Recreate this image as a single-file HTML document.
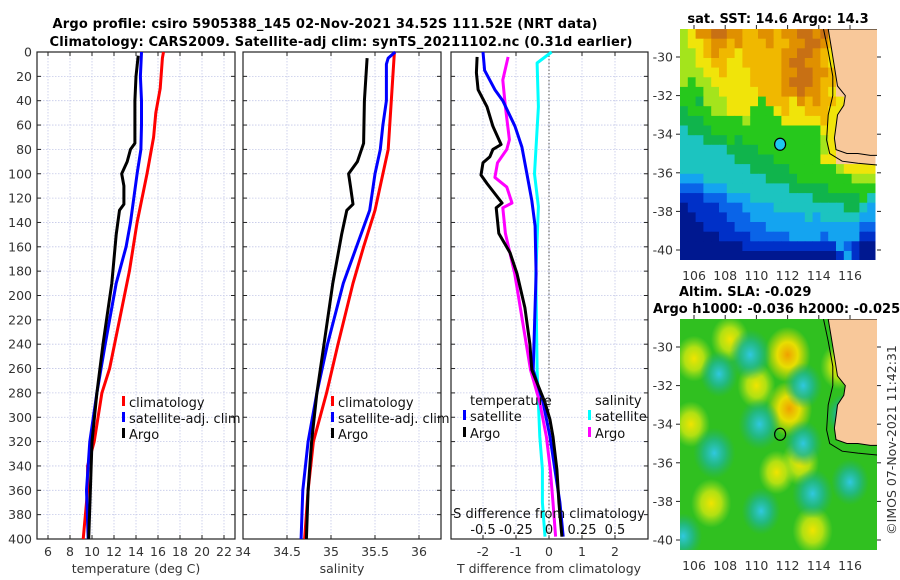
<!DOCTYPE html>
<html><head><meta charset="utf-8"><title>Argo profile</title>
<style>
html,body{margin:0;padding:0;background:#fff;}
svg{display:block;font-family:"DejaVu Sans","Liberation Sans",sans-serif;}
.tk{font-size:12.5px;fill:#333;}
.ttl{font-size:13px;font-weight:bold;fill:#000;}
.lg{font-size:13px;fill:#111;}
</style></head>
<body>
<svg id="fig" width="900" height="580" viewBox="0 0 900 580" xmlns="http://www.w3.org/2000/svg">
<defs>
<radialGradient id="gPos"><stop offset="0" stop-color="#f0a000"/><stop offset="0.45" stop-color="#f0e000" stop-opacity="0.95"/><stop offset="1" stop-color="#f0e000" stop-opacity="0"/></radialGradient>
<radialGradient id="gYel"><stop offset="0" stop-color="#f0e400"/><stop offset="0.5" stop-color="#c8e610" stop-opacity="0.85"/><stop offset="1" stop-color="#a0e020" stop-opacity="0"/></radialGradient>
<radialGradient id="gNeg"><stop offset="0" stop-color="#30c8e0"/><stop offset="0.5" stop-color="#20b890" stop-opacity="0.85"/><stop offset="1" stop-color="#20b070" stop-opacity="0"/></radialGradient>
<clipPath id="clipTop"><rect x="680" y="29" width="197" height="231"/></clipPath>
<clipPath id="clipBot"><rect x="680" y="319" width="197" height="231"/></clipPath>
</defs>
<text class="ttl" x="325" y="28" text-anchor="middle" textLength="545">Argo profile: csiro 5905388_145 02-Nov-2021 34.52S 111.52E (NRT data)</text>
<text class="ttl" x="341" y="46" text-anchor="middle" textLength="583">Climatology: CARS2009. Satellite-adj clim: synTS_20211102.nc (0.31d earlier)</text>
<g id="g1"></g>
<g id="g2"></g>
<g id="g3"></g>
<g id="m1"></g>
<g id="m2"></g>
<text class="ttl" x="778" y="23" text-anchor="middle">sat. SST: 14.6 Argo: 14.3</text>
<text class="ttl" x="679" y="296">Altim. SLA: -0.029</text>
<text class="ttl" x="653" y="313">Argo h1000: -0.036 h2000: -0.025</text>
<text class="tk" transform="translate(896,440) rotate(-90)" text-anchor="middle">©IMOS 07-Nov-2021 11:42:31</text>
</svg>
<script>
// ---------- profile data ----------
const tClimDepth=[0,5,30,50,70,100,140,180,220,260,280,320,340,360,400];
const tClimVal=[16.5,16.4,16.2,15.8,15.6,15.0,14.1,13.4,12.5,11.6,10.9,10.2,9.6,9.6,9.2];
const tSatDepth=[0,20,40,60,80,100,120,140,160,190,240,280,320,360,400];
const tSatVal=[14.5,14.4,14.5,14.5,14.45,14.1,13.8,13.5,13.1,12.2,11.2,10.45,9.8,9.5,9.65];
const tArgoDepth=[3,20,40,75,80,90,100,110,125,130,150,190,240,280,320,400];
const tArgoVal=[14.2,14.0,13.9,13.9,13.5,13.2,12.7,12.9,12.9,12.5,12.2,11.8,11.0,10.45,10.0,9.7];
const sClimDepth=[0,80,100,130,160,190,240,280,320,360,400];
const sClimVal=[35.72,35.65,35.59,35.5,35.37,35.25,35.08,34.95,34.8,34.74,34.7];
const sSatDepth=[0,5,10,40,60,80,100,130,160,190,240,280,320,360,400];
const sSatVal=[35.73,35.65,35.63,35.63,35.59,35.56,35.5,35.44,35.29,35.14,34.96,34.84,34.74,34.68,34.66];
const sArgoDepth=[5,40,75,90,100,110,125,130,150,190,240,280,320,360,400];
const sArgoVal=[35.41,35.38,35.37,35.3,35.2,35.22,35.25,35.18,35.12,35.02,34.92,34.84,34.78,34.74,34.72];
const dTSatDepth=[0,15,31,40,61,78,100,122,143,182,261,288,316,343,370,398];
const dTSatVal=[-2,-1.95,-1.64,-1.4,-1.03,-0.82,-0.67,-0.52,-0.42,-0.39,-0.48,-0.18,0.03,0.18,0.33,0.43];
const dTArgoDepth=[4,17,31,45,61,76,80,86,91,101,108,124,128,149,165,182,210,240,261,288,302,316,343,370,398];
const dTArgoVal=[-2.18,-2.2,-2.15,-1.88,-1.7,-1.45,-1.7,-1.79,-2,-2.06,-1.88,-1.42,-1.6,-1.52,-1.18,-0.97,-0.73,-0.58,-0.52,-0.12,0.03,0.12,0.24,0.3,0.39];
const dSArgoDepth=[4,23,45,72,80,91,103,111,124,128,149,182,261,288,316,343,370,398];
const dSArgoVal=[-0.31,-0.35,-0.33,-0.3,-0.32,-0.39,-0.41,-0.32,-0.28,-0.35,-0.33,-0.26,-0.14,-0.07,-0.02,0.01,0.03,0.05];
const dSSatDepth=[0,9,45,100,127,182,261,288,316,343,370,398];
const dSSatVal=[0.02,-0.09,-0.08,-0.11,-0.08,-0.1,-0.09,-0.08,-0.07,-0.05,-0.05,-0.03];
const depthTicks=[0,20,40,60,80,100,120,140,160,180,200,220,240,260,280,300,320,340,360,380,400];
const tTicks=[6,8,10,12,14,16,18,20,22];
const sTicks=[34,34.5,35,35.5,36];
const dTTicks=[-2,-1,0,1,2];
const dSTicks=[-0.5,-0.25,0,0.25,0.5];
const dSTickLabels=["-0.5","-0.25","0","0.25","0.5"];

// ---------- map data ----------
const sstRows=[
"78aabbaa99aa9aabbab9LLLLL",
"7889aa9a999a99aabba9LLLLL",
"7789a99899999aabba98LLLLL",
"7788998899999abbaa98LLLLL",
"7778898889999aabbaa9LLLLL",
"7677888889999abbba99LLLLL",
"6667788888999aabaa98LLLLL",
"665777888869998a9a998LLLL",
"566677888666898899988LLLL",
"555666667666688888988LLLL",
"45556666666666666688LLLLL",
"44455565666666666678LLLLL",
"44444455556666666678LLLLL",
"44444445555566666688LLLLL",
"4444444445555566666678888",
"3334444444455556666666777",
"2223334444444455555666666",
"1112223334444444455555564",
"0111122233334444444445543",
"0011112223333333434444433",
"0001111222233333333333322",
"0000011112222233332333311",
"0000000011111111111132100",
"0000000000000000000013100"];
const slaLon=[112,112.1,110,106,107.1,113.6,115.3,112.8,108.3,105.8,109.6,107.6,113,110.2,107.3,113.6,116,110.3,113,105.3,111.3,115.6];
const slaLat=[-30.4,-33.2,-32,-30.6,-38.1,-39.5,-31,-36,-29.6,-34,-30.4,-31.4,-32,-34,-35.5,-37.6,-37,-38.5,-35,-39.8,-36.5,-33.5];
const slaVal=[2,2,1,1,1.3,1.3,1,1,1,1,-1.5,-1,-1,-1.5,-1.5,-1.4,-1,-1.1,-1,-1,0.8,-0.6];
const coastLon=[114.6,114.8,115.0,115.2,115.7,115.6,115.2,115.1,115.0,115.1,115.8,116.5,117.3,117.8,117.8];
const coastLat=[-28.55,-29.5,-30.5,-31.5,-32.0,-32.5,-33.0,-33.6,-34.2,-34.8,-35.0,-35.0,-35.1,-35.1,-28.55];
const shelfLon=[114.3,114.6,114.9,114.9,114.6,114.5,114.7,115.5,116.5,117.8];
const shelfLat=[-28.55,-29.7,-31,-32,-33,-34.3,-35.0,-35.4,-35.5,-35.6];
const latTicks=[-30,-32,-34,-36,-38,-40];
const lonTicks=[106,108,110,112,114,116];
const argoLon=111.52, argoLat=-34.52;

const NS="http://www.w3.org/2000/svg";
function mk(parent,tag,attrs){const e=document.createElementNS(NS,tag);for(const k in attrs)e.setAttribute(k,attrs[k]);parent.appendChild(e);return e;}
function txt(parent,x,y,s,anchor,cls){const t=mk(parent,'text',{x:x,y:y,'text-anchor':anchor||'middle','class':cls||'tk'});t.textContent=s;return t;}

const Y0=52,Y1=539;
const yD=d=>Y0+d*(Y1-Y0)/400;
const xT=v=>37+(v-5)*11;
const xS=v=>243+(v-34)*88;
const xDT=v=>549+v*33;
const xDS=v=>549+v*132;

function frame(g,x0,x1,xt,ticks,labels,ylabels){
  for(const d of depthTicks){
    const l=mk(g,'line',{x1:x0,x2:x1,y1:yD(d),y2:yD(d),stroke:'#c4c8e8','stroke-width':0.8,'stroke-dasharray':'1.5,1.5'});
    
    
    mk(g,'line',{x1:x0,x2:x0+4,y1:yD(d),y2:yD(d),stroke:'#222'});
    mk(g,'line',{x1:x1-4,x2:x1,y1:yD(d),y2:yD(d),stroke:'#222'});
    if(ylabels){const t=txt(g,32,yD(d)+4.5,String(d),'end');
      
      }
  }
  ticks.forEach((v,i)=>{
    const x=xt(v);
    if(x>x0+1&&x<x1-1){mk(g,'line',{x1:x,x2:x,y1:Y0,y2:Y1,stroke:'#c4c8e8','stroke-width':0.8,'stroke-dasharray':'1.5,1.5'});
    mk(g,'line',{x1:x,x2:x,y1:Y1-4,y2:Y1,stroke:'#222'});mk(g,'line',{x1:x,x2:x,y1:Y0,y2:Y0+4,stroke:'#222'});}
    if(labels){const t=txt(g,x,556,labels[i]);
      
      }
  });
  const r=mk(g,'rect',{x:x0,y:Y0,width:x1-x0,height:Y1-Y0,fill:'none',stroke:'#222','stroke-width':1.2});
  
  
}
function line(g,depths,vals,xf,color,name,w){
  const pts=depths.map((d,i)=>xf(vals[i]).toFixed(1)+','+yD(d).toFixed(1)).join(' ');
  const p=mk(g,'polyline',{points:pts,fill:'none',stroke:color,'stroke-width':w||3,'stroke-linejoin':'round'});
  
  
}
function legend(g,x,y,color,label,name){
  mk(g,'rect',{x:x,y:y-11,width:3,height:10,fill:color});
  const t=txt(g,x+7,y,label,'start','lg');
  
  
}

// panel 1
const g1=document.getElementById('g1');
frame(g1,37,235,xT,tTicks,tTicks.map(String),true);
line(g1,tClimDepth,tClimVal,xT,'#ff0000','temp-climatology-line');
line(g1,tSatDepth,tSatVal,xT,'#0000ff','temp-satellite-line');
line(g1,tArgoDepth,tArgoVal,xT,'#000000','temp-argo-line');
legend(g1,122,407,'#ff0000','climatology','legend-climatology');
legend(g1,122,423,'#0000ff','satellite-adj. clim','legend-satellite-adj');
legend(g1,122,439,'#000000','Argo','legend-argo');
{const t=txt(g1,136,573,'temperature (deg C)');}

// panel 2
const g2=document.getElementById('g2');
frame(g2,243,441,xS,sTicks,sTicks.map(String),false);
line(g2,sClimDepth,sClimVal,xS,'#ff0000','sal-climatology-line');
line(g2,sSatDepth,sSatVal,xS,'#0000ff','sal-satellite-line');
line(g2,sArgoDepth,sArgoVal,xS,'#000000','sal-argo-line');
legend(g2,331,407,'#ff0000','climatology','legend-climatology-sal');
legend(g2,331,423,'#0000ff','satellite-adj. clim','legend-satellite-adj-sal');
legend(g2,331,439,'#000000','Argo','legend-argo-sal');
{const t=txt(g2,342,573,'salinity');}

// panel 3
const g3=document.getElementById('g3');
frame(g3,451,648,xDT,dTTicks,dTTicks.map(String),false);
mk(g3,'line',{x1:xDT(0),x2:xDT(0),y1:Y0,y2:Y1,stroke:'#555','stroke-width':1,'stroke-dasharray':'1.5,2'});
line(g3,dSSatDepth,dSSatVal,xDS,'#00ffff','sal-diff-satellite-line');
line(g3,dSArgoDepth,dSArgoVal,xDS,'#ff00ff','sal-diff-argo-line');
line(g3,dTSatDepth,dTSatVal,xDT,'#0000ff','temp-diff-satellite-line');
line(g3,dTArgoDepth,dTArgoVal,xDT,'#000000','temp-diff-argo-line');
txt(g3,470,405,'temperature','start','lg');
legend(g3,463,421,'#0000ff','satellite','legend-temp-satellite');
legend(g3,463,438,'#000000','Argo','legend-temp-argo');
txt(g3,595,405,'salinity','start','lg');
legend(g3,588,421,'#00ffff','satellite','legend-sal-satellite');
legend(g3,588,438,'#ff00ff','Argo','legend-sal-argo');
{const t=txt(g3,549,518,'S difference from climatology','middle','lg');}
dSTicks.forEach((v,i)=>{const t=txt(g3,xDS(v),534,dSTickLabels[i],'middle','lg');
  
  });
{const t=txt(g3,549,573,'T difference from climatology');}

// maps
const lx=v=>694+(v-106)*15.6;
const sstColors={'0':'#001890','1':'#0030c8','2':'#0a64e8','3':'#14a4f0','4':'#1cc4c0','5':'#10b44c','6':'#26c81c','7':'#a4e41c','8':'#f0e40a','9':'#f0b800','a':'#e09000','b':'#c87014'};
const LAND='#f8c89a';
function mapFrame(g,top,ly,labelY,clip){
  mk(g,'rect',{x:680,y:top,width:197,height:231,fill:'none',stroke:'none'});
  latTicks.forEach(v=>{const y=ly(v);
    mk(g,'line',{x1:676,x2:680,y1:y,y2:y,stroke:'#222'});
    mk(g,'line',{x1:877,x2:881,y1:y,y2:y,stroke:'#222'});
    const t=txt(g,673,y+4.5,String(v),'end');
    
    });
  lonTicks.forEach(v=>{const x=lx(v);
    mk(g,'line',{x1:x,x2:x,y1:top-4,y2:top,stroke:'#222'});
    const t=txt(g,x,labelY,String(v));
    
    });
}
function coast(g,ly){
  const pts=coastLon.map((v,i)=>lx(v).toFixed(1)+','+ly(coastLat[i]).toFixed(1)).join(' ');
  const land=mk(g,'polygon',{points:pts,fill:LAND,stroke:'#000','stroke-width':1});
  
  
  const sp=shelfLon.map((v,i)=>lx(v).toFixed(1)+','+ly(shelfLat[i]).toFixed(1)).join(' ');
  mk(g,'polyline',{points:sp,fill:'none',stroke:'#000','stroke-width':1});
}
// SST map
{
  const g=document.getElementById('m1');
  const ly=v=>57+(-30-v)*19.3;
  const c=mk(g,'g',{'clip-path':'url(#clipTop)'});
  sstRows.forEach((row,j)=>{
    for(let i=0;i<row.length;i++){
      const ch=row[i];
      const lon=105.1+0.5*i, lat=-28.55-0.5*j;
      const col=ch==='L'?LAND:sstColors[ch];
      const r=mk(c,'rect',{x:lx(lon).toFixed(1),y:ly(lat).toFixed(1),width:8.3,height:10.2,fill:col});
      
      
    }
  });
  coast(c,ly);
  const a=mk(g,'ellipse',{cx:lx(argoLon),cy:ly(argoLat),rx:5.5,ry:6,fill:'#1ec8f0',stroke:'#000','stroke-width':1.2});
  
  
  mapFrame(g,29,ly,280,'clipTop');
}
// SLA map
{
  const g=document.getElementById('m2');
  const ly=v=>347+(-30-v)*19.3;
  const c=mk(g,'g',{'clip-path':'url(#clipBot)'});
  mk(c,'rect',{x:680,y:319,width:197,height:231,fill:'#30c020'});
  slaLon.forEach((lon,i)=>{
    const v=slaVal[i];
    const fill=v>=1.5?'url(#gPos)':(v>0?'url(#gYel)':'url(#gNeg)');
    const s=Math.abs(v);
    const e=mk(c,'ellipse',{cx:lx(lon).toFixed(1),cy:ly(slaLat[i]).toFixed(1),rx:(15+4*s).toFixed(1),ry:(18+5*s).toFixed(1),fill:fill});
    
    
  });
  coast(c,ly);
  const a=mk(g,'ellipse',{cx:lx(argoLon),cy:ly(argoLat),rx:5.5,ry:6,fill:'none',stroke:'#000','stroke-width':1.2});
  
  
  mapFrame(g,319,ly,570,'clipBot');
}
</script>
</body></html>
